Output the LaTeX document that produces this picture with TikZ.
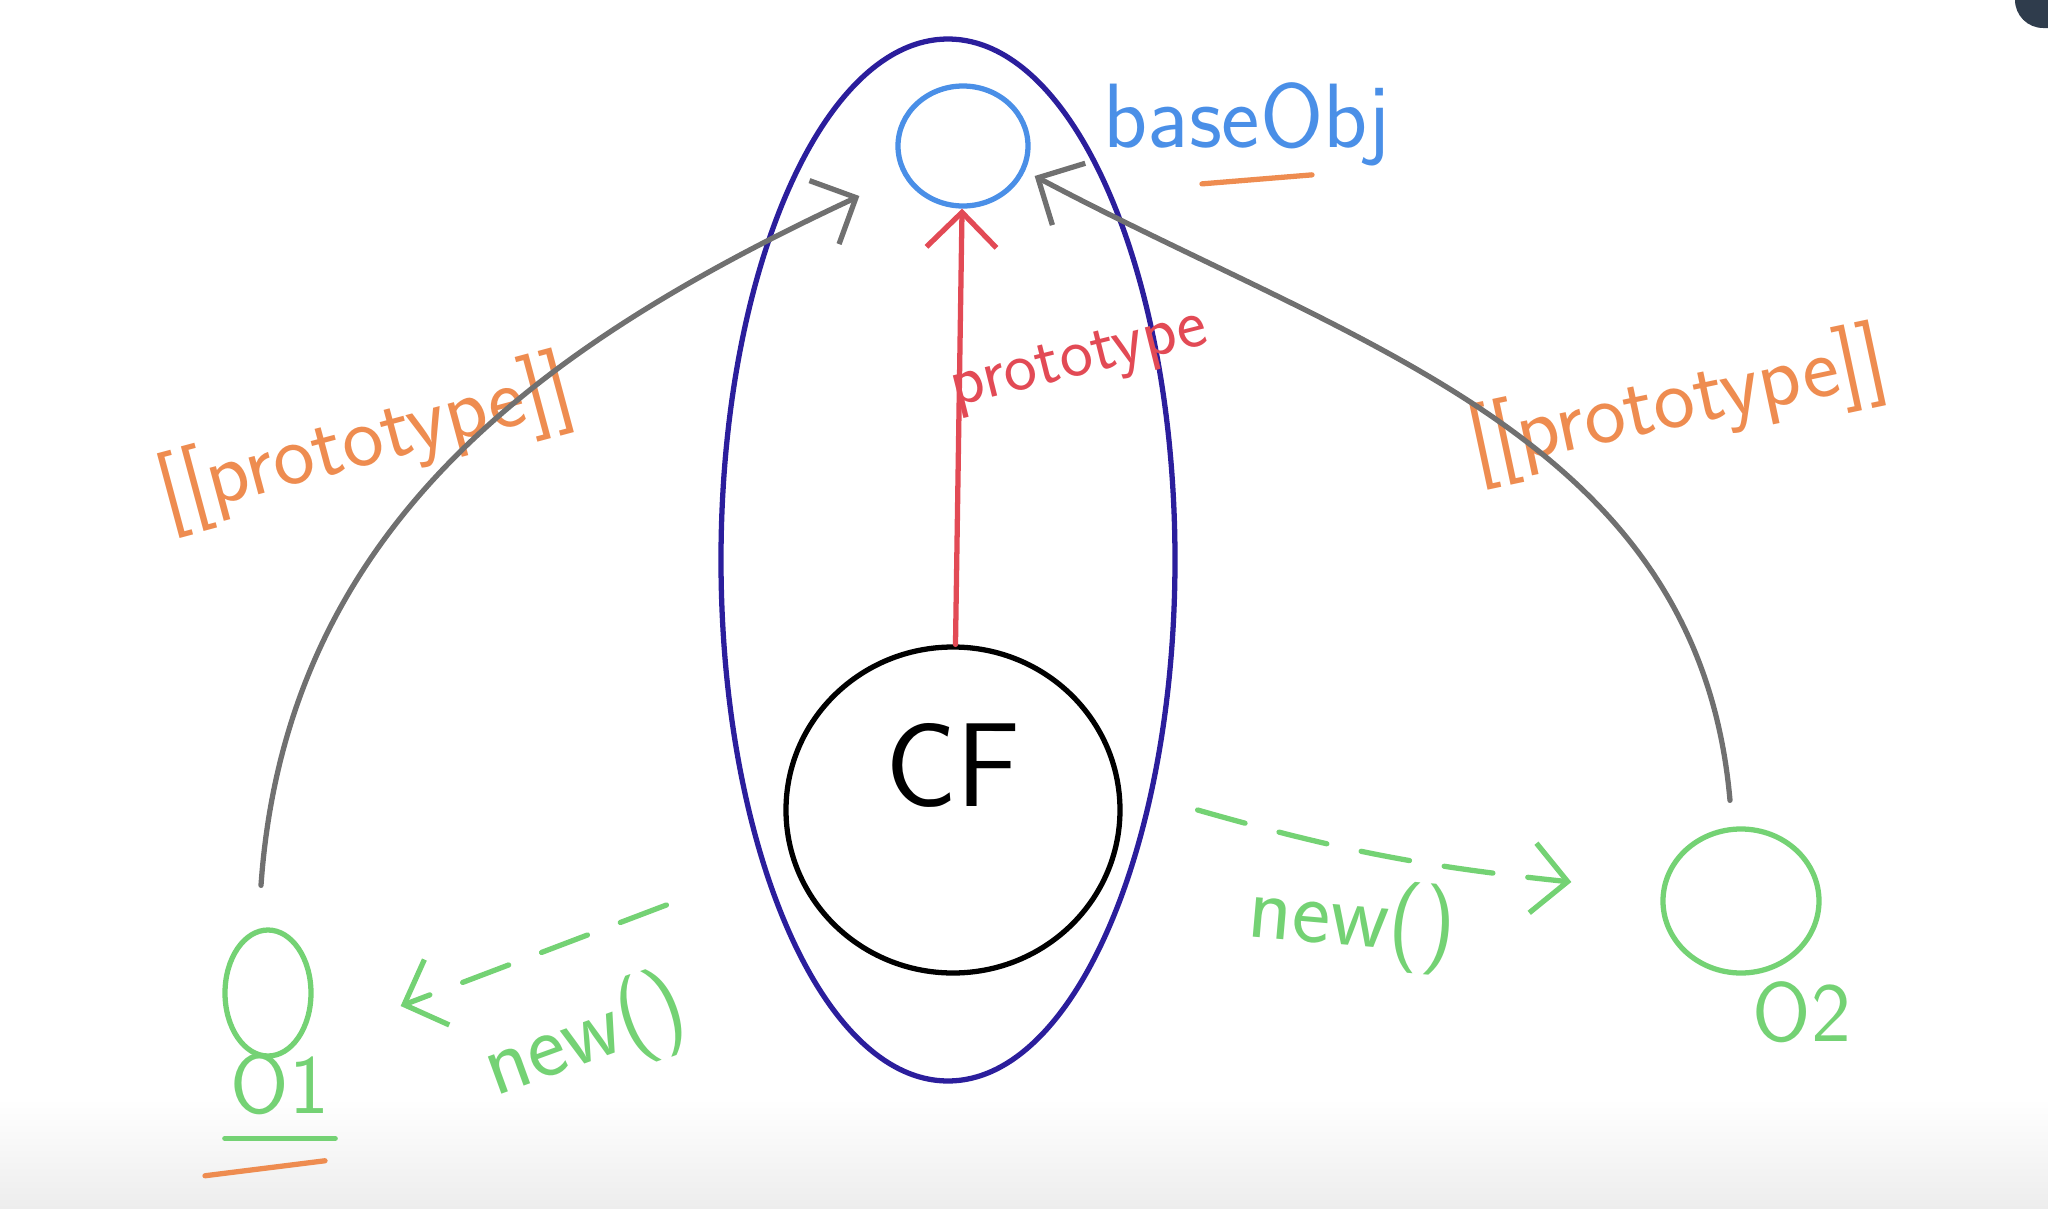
\documentclass[tikz,border=0pt]{standalone}
\usepackage{fontspec}
\usetikzlibrary{arrows.meta,positioning,calc,shapes.geometric}

\definecolor{objblue}{HTML}{4A8FE7}
\definecolor{fnblue}{HTML}{2B1E9C}
\definecolor{protored}{HTML}{E24A55}
\definecolor{linkorange}{HTML}{EE8C50}
\definecolor{newgreen}{HTML}{74D274}
\definecolor{linkgray}{HTML}{707070}
\definecolor{cornerdark}{HTML}{2F3C4C}

\newcommand{\handsz}[1]{\fontsize{#1}{#1}\selectfont}

\begin{document}
\begin{tikzpicture}[
  every node/.style={font=\sffamily},
  obj/.style={ellipse, draw, inner sep=0pt},
  lbl/.style={inner sep=1pt},
  link/.style={linkgray, ->},
  newarrow/.style={newgreen, ->, dash pattern=on 14pt off 10pt},
  >={Straight Barb[length=3.5mm,width=7mm]},
  line width=1.5pt, line cap=round
]
\useasboundingbox (0,0) rectangle (20.48,12.08);

% background fade and corner
\shade[top color=white, bottom color=black!7, draw=none] (0,0) rectangle (20.48,1.1);
\fill[cornerdark, rounded corners=8pt] (20.15,11.80) rectangle (20.9,12.4);

% Nodes (objects)
\node[obj, draw=objblue, minimum width=1.3cm, minimum height=1.2cm] (base) at (9.63,10.62) {};
\node[obj, draw=fnblue, minimum width=4.54cm, minimum height=10.42cm] (fn) at (9.48,6.48) {};
\node[obj, draw=black, minimum width=3.34cm, minimum height=3.26cm] (CF) at (9.53,3.98) {};
\node[obj, draw=newgreen, minimum width=0.86cm, minimum height=1.26cm] (o1) at (2.68,2.15) {};
\node[obj, draw=newgreen, minimum width=1.56cm, minimum height=1.44cm] (o2) at (17.41,3.07) {};

% Labels
\node[lbl, font=\sffamily\handsz{34}] (cflbl) at ([yshift=0.45cm]CF.center) {CF};
\node[lbl, text=objblue, font=\sffamily\handsz{26}] (baselbl) at (12.47,10.84) {baseObj};
\node[lbl, text=newgreen, font=\sffamily\handsz{24}] (o1lbl) at (2.80,1.24) {O1};
\node[lbl, text=newgreen, font=\sffamily\handsz{24}] (o2lbl) at (18.02,1.96) {O2};
\node[lbl, text=protored, font=\sffamily\handsz{20}, rotate=14] (plbl) at (10.80,8.45) {prototype};
\node[lbl, text=linkorange, font=\sffamily\handsz{25}, rotate=15] (llbl) at (3.66,7.65) {[[prototype]]};
\node[lbl, text=linkorange, font=\sffamily\handsz{25}, rotate=12] (rlbl) at (16.78,8.03) {[[prototype]]};
\node[lbl, text=newgreen, font=\sffamily\handsz{26}, rotate=20] (newl) at (5.85,1.68) {new()};
\node[lbl, text=newgreen, font=\sffamily\handsz{26}, rotate=-5] (newr) at (13.52,2.85) {new()};

% Underlines
\draw[linkorange] ([xshift=-0.45cm,yshift=-0.12cm]baselbl.south) -- ([xshift=0.65cm,yshift=-0.03cm]baselbl.south);
\draw[newgreen] ([yshift=-5pt]o1lbl.south west) -- ([yshift=-5pt]o1lbl.south east);
\draw[linkorange] ([xshift=-0.75cm,yshift=-0.55cm]o1lbl.south) -- ([xshift=0.45cm,yshift=-0.40cm]o1lbl.south);

% Arrows (links)
\draw[protored, ->] (CF) -- (base);
\draw[link] ($(o1.north)+(-0.07,0.42)$) to[out=86, in=205] ($(base.west)+(-0.36,-0.50)$);
\draw[link] ($(o2.north)+(-0.11,0.26)$) to[out=95, in=-28] ($(base.east)+(0.04,-0.30)$);
\draw[newarrow] ($(CF.west)+(-1.17,-0.95)$) -- ($(o1.east)+(0.87,-0.13)$);
\draw[newarrow] ($(CF.east)+(0.75,0)$) to[bend right=5] ($(o2.west)+(-0.89,0.19)$);

\end{tikzpicture}
\end{document}
